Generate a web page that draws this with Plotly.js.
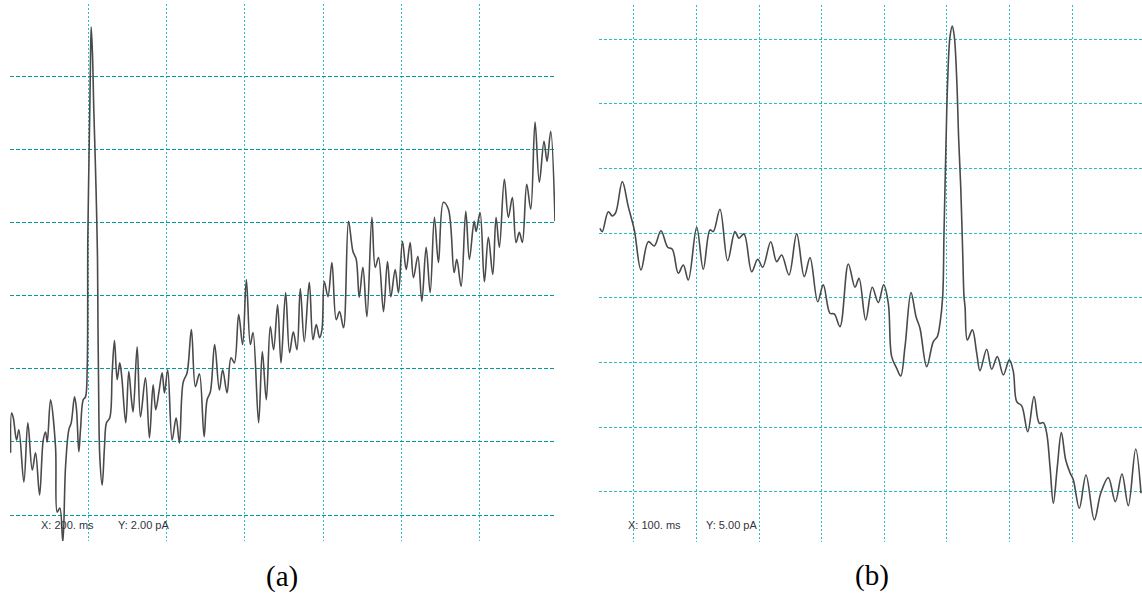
<!DOCTYPE html>
<html>
<head>
<meta charset="utf-8">
<script src="https://cdn.plot.ly/plotly-3.0.1.min.js"></script>
<style>
html,body{margin:0;padding:0;background:#fff;}
#chart{width:1142px;height:595px;}
</style>
</head>
<body>
<div id="chart"></div>
<script>
// Panel (a): time in ms, current in pA (grid: 200 ms, 2.00 pA)
const timeA = [0, 2.6, 6.9, 15.3, 21.2, 34.0, 44.2, 55.5, 63.9, 74.2, 83.6, 89.5, 93.9, 102.3, 115.1, 119.4, 126.1, 133.8, 140.7, 149.1,
  155.2, 163.7, 168.8, 174.7, 179.0, 185.9, 191.8, 196.2, 197.7, 200.2, 202.8, 204.6, 206.4, 209.7, 213.0, 216.6, 219.9, 222.5, 223.3, 223.8,
  225.1, 228.4, 234.5, 240.4, 245.5, 254.0, 260.1, 266.0, 272.9, 279.5, 284.6, 294.9, 302.5, 309.5, 313.8, 324.0, 332.5, 345.3, 355.5, 364.9,
  371.6, 380.3, 388.0, 393.9, 402.3, 413.5, 423.8, 432.2, 441.7, 451.9, 462.9, 473.1, 483.4, 495.4, 503.1, 511.5, 522.5, 534.5, 543.0, 554.2,
  564.4, 572.9, 583.9, 594.1, 603.6, 613.8, 620.7, 635.0, 644.5, 654.7, 664.9, 673.4, 683.6, 692.3, 704.1, 714.3, 723.8, 733.2, 741.7, 751.9,
  764.7, 774.2, 782.6, 791.0, 797.2, 803.1, 812.5, 822.7, 833.7, 842.2, 852.4, 865.2, 876.4, 884.9, 892.6, 902.0, 912.3, 925.0, 933.5, 941.9,
  954.7, 964.9, 973.6, 984.6, 993.1, 1003.3, 1012.8, 1023.0, 1031.4, 1042.7, 1052.9, 1063.9, 1074.2, 1085.1, 1095.4, 1108.1, 1120.9, 1135.5, 1142.4, 1153.4,
  1165.4, 1174.6, 1186.7, 1191.8, 1202.0, 1213.0, 1223.2, 1234.5, 1242.9, 1251.4, 1264.1, 1274.4, 1284.6, 1294.1, 1302.5, 1310.2, 1321.4, 1331.7, 1342.7, 1353.7,
  1365.7, 1373.4, 1382.8, 1393.8];
const currentA = [1.70, 2.79, 2.66, 2.05, 2.33, 0.90, 2.52, 1.23, 1.70, 0.55, 2.05, 2.27, 2.00, 3.15, 1.86, 0.08, 0.19, -0.74, 1.32, 2.33,
  2.52, 3.23, 2.88, 1.73, 2.33, 3.15, 3.23, 4.05, 7.53, 9.37, 11.10, 12.47, 13.34, 12.60, 11.10, 9.78, 8.41, 7.04, 5.97, 5.07,
  3.78, 1.59, 0.82, 1.86, 2.52, 2.66, 3.89, 4.77, 3.70, 4.16, 3.78, 2.52, 3.92, 3.15, 2.82, 4.60, 2.68, 3.75, 2.11, 3.56,
  2.88, 3.40, 3.89, 3.34, 3.97, 2.05, 2.66, 1.97, 3.62, 3.89, 5.07, 3.51, 3.86, 2.14, 3.15, 3.37, 4.66, 3.42, 3.97, 3.34,
  4.30, 4.16, 5.48, 4.66, 6.44, 4.66, 4.99, 2.52, 4.47, 3.15, 5.15, 4.52, 5.75, 4.16, 6.08, 4.44, 5.01, 4.52, 6.19, 4.74,
  6.36, 4.79, 5.21, 4.85, 5.07, 6.38, 5.97, 6.90, 5.34, 5.56, 5.12, 8.03, 7.21, 6.99, 5.95, 6.77, 5.42, 8.14, 6.77, 7.04,
  5.56, 6.93, 5.97, 6.71, 6.08, 7.48, 6.71, 7.45, 6.49, 7.07, 5.84, 7.32, 6.08, 8.14, 6.90, 8.55, 8.36, 6.63, 6.99, 6.25,
  8.30, 6.99, 8.03, 7.75, 8.27, 6.38, 7.59, 6.58, 8.14, 7.32, 9.18, 8.14, 8.68, 7.45, 7.73, 7.45, 9.04, 8.36, 10.74, 9.10,
  10.22, 9.67, 10.49, 8.03];

// Panel (b): time in ms, current in pA (grid: 100 ms, 5.00 pA)
const timeB = [45.7, 49.3, 58.9, 65.3, 70.8, 81.3, 90.9, 100.5, 111.2, 122.9, 132.4, 143.1, 153.9, 161.2, 170.8, 178.8, 186.8, 200.2, 210.7, 221.5,
  226.7, 237.4, 249.7, 261.4, 267.8, 275.8, 288.1, 297.7, 305.7, 318.5, 328.0, 336.0, 347.7, 360.0, 372.1, 381.3, 393.6, 402.5, 413.2, 420.1,
  429.2, 442.5, 453.2, 459.6, 470.3, 480.8, 490.4, 499.0, 506.4, 511.8, 519.8, 526.2, 533.1, 542.7, 550.7, 557.0, 567.8, 578.3, 584.7, 589.0,
  593.3, 595.4, 598.6, 601.3, 605.0, 608.7, 611.9, 615.7, 618.9, 622.1, 625.3, 627.4, 629.0, 632.7, 640.7, 647.7, 652.9, 663.6, 671.6, 680.6,
  690.2, 699.8, 706.2, 711.6, 719.6, 729.2, 739.3, 747.7, 754.1, 759.5, 764.8, 770.1, 776.5, 782.9, 789.9, 796.8, 802.1, 811.6, 822.3, 835.6,
  845.8, 858.0, 869.2, 879.8, 889.9, 901.7, 910.2];
const currentB = [20.39, 20.13, 21.67, 21.34, 21.60, 23.99, 22.06, 20.26, 17.17, 19.35, 19.02, 20.20, 18.92, 18.77, 16.91, 17.55, 16.39, 20.47, 17.22, 20.26,
  20.13, 21.86, 17.88, 20.13, 19.62, 19.95, 17.03, 17.99, 17.37, 19.35, 17.81, 18.32, 16.78, 19.95, 16.65, 18.12, 14.71, 16.01, 13.82, 13.76,
  12.78, 17.63, 15.83, 16.52, 13.30, 15.83, 14.64, 16.01, 14.59, 10.46, 9.56, 8.97, 11.23, 15.41, 13.55, 12.66, 9.69, 11.62, 12.01, 13.04,
  15.10, 20.00, 26.96, 31.86, 35.20, 36.03, 35.20, 31.99, 27.22, 23.61, 18.46, 15.10, 14.33, 11.75, 12.53, 10.72, 9.38, 11.03, 9.49, 10.46,
  9.05, 10.21, 9.30, 6.98, 6.65, 4.66, 7.37, 5.31, 5.36, 4.54, 1.96, -0.87, 1.96, 4.59, 2.47, 1.49, 0.93, -1.26, 1.31, -2.16,
  -0.10, 1.11, -0.75, 1.39, -1.06, 3.32, -0.10];

const gridTicksA = [0, 200, 400, 600, 800, 1000, 1200];
const gridTicksAy = [0, 2, 4, 6, 8, 10, 12];
const gridTicksB = [100, 200, 300, 400, 500, 600, 700, 800];
const gridTicksBy = [0, 5, 10, 15, 20, 25, 30, 35];

const scaleTextA = ['X: 200. ms', 'Y: 2.00 pA'];
const scaleTextB = ['X: 100. ms', 'Y: 5.00 pA'];
const panelLabels = ['(a)', '(b)'];

const dotColor = '#2fbcbc';
const dashColor = '#009c9c';
const traceColor = '#4a4a4a';

const traces = [
  {x: timeA, y: currentA, xaxis: 'x', yaxis: 'y', type: 'scatter', mode: 'lines',
   line: {color: traceColor, width: 1.6, shape: 'spline', smoothing: 1}, hoverinfo: 'skip'},
  {x: timeB, y: currentB, xaxis: 'x2', yaxis: 'y2', type: 'scatter', mode: 'lines',
   line: {color: traceColor, width: 1.6, shape: 'spline', smoothing: 1}, hoverinfo: 'skip'}
];

function ax(extra) {
  return Object.assign({showticklabels: false, ticks: '', showgrid: true, gridwidth: 1,
    zeroline: false, showline: false, fixedrange: true, tickmode: 'array'}, extra);
}

const W = 1142, H = 595;
const layout = {
  width: W, height: H,
  margin: {l: 0, r: 0, t: 0, b: 0},
  paper_bgcolor: '#ffffff', plot_bgcolor: '#ffffff',
  showlegend: false,
  xaxis: ax({domain: [10 / W, 555 / W], range: [-1.5, 1393.8], tickvals: gridTicksA,
    gridcolor: dotColor, griddash: '2px,2px', anchor: 'y'}),
  yaxis: ax({domain: [1 - 541 / H, 1 - 4 / H], range: [-0.71, 13.97], tickvals: gridTicksAy,
    gridcolor: dashColor, griddash: '4px,2px', anchor: 'x'}),
  xaxis2: ax({domain: [599 / W, 1], range: [44.1, 911.8], tickvals: gridTicksB,
    gridcolor: dotColor, griddash: '2px,2px', anchor: 'y2'}),
  yaxis2: ax({domain: [1 - 542 / H, 1 - 5 / H], range: [-3.87, 37.65], tickvals: gridTicksBy,
    gridcolor: dotColor, griddash: '3px,2px', anchor: 'x2'}),
  annotations: [
    {text: scaleTextA[0], xref: 'paper', yref: 'paper', x: 39 / W, y: 1 - 525 / H, xanchor: 'left', yanchor: 'middle',
     showarrow: false, font: {family: 'Liberation Sans, Arial, sans-serif', size: 11, color: '#333340'}},
    {text: scaleTextA[1], xref: 'paper', yref: 'paper', x: 116 / W, y: 1 - 525 / H, xanchor: 'left', yanchor: 'middle',
     showarrow: false, font: {family: 'Liberation Sans, Arial, sans-serif', size: 11, color: '#333340'}},
    {text: scaleTextB[0], xref: 'paper', yref: 'paper', x: 626 / W, y: 1 - 525 / H, xanchor: 'left', yanchor: 'middle',
     showarrow: false, font: {family: 'Liberation Sans, Arial, sans-serif', size: 11, color: '#333340'}},
    {text: scaleTextB[1], xref: 'paper', yref: 'paper', x: 704 / W, y: 1 - 525 / H, xanchor: 'left', yanchor: 'middle',
     showarrow: false, font: {family: 'Liberation Sans, Arial, sans-serif', size: 11, color: '#333340'}},
    {text: panelLabels[0], xref: 'paper', yref: 'paper', x: 281.5 / W, y: 1 - 576 / H, xanchor: 'center', yanchor: 'middle',
     showarrow: false, font: {family: 'Liberation Serif, serif', size: 29, color: '#000'}},
    {text: panelLabels[1], xref: 'paper', yref: 'paper', x: 871.5 / W, y: 1 - 575 / H, xanchor: 'center', yanchor: 'middle',
     showarrow: false, font: {family: 'Liberation Serif, serif', size: 29, color: '#000'}}
  ]
};

Plotly.newPlot('chart', traces, layout, {displayModeBar: false, staticPlot: true});
</script>
</body>
</html>
